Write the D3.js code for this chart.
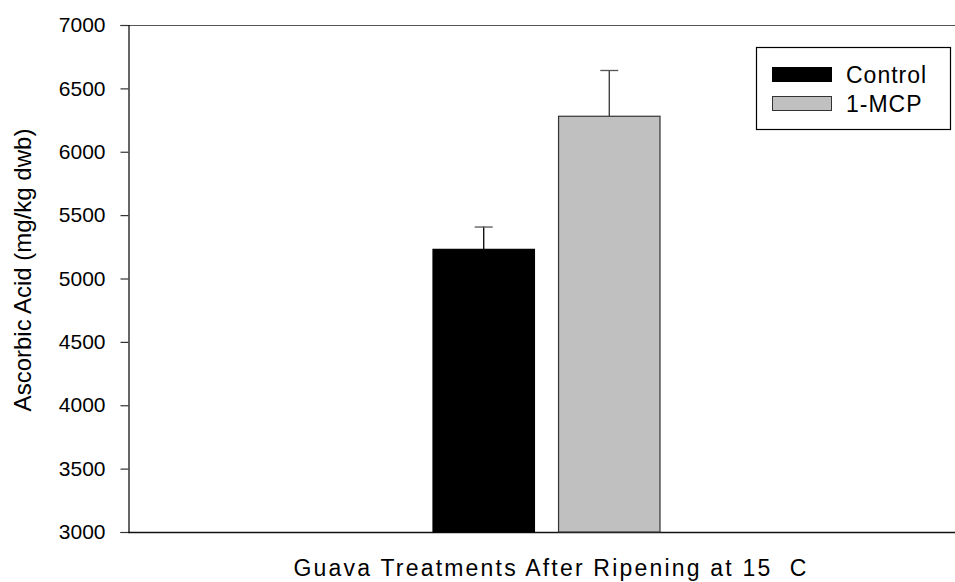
<!DOCTYPE html>
<html>
<head>
<meta charset="utf-8">
<script src="https://cdn.jsdelivr.net/npm/d3@7"></script>
<style>
  html, body { margin: 0; padding: 0; background: #fff; }
  svg { display: block; font-family: "Liberation Sans", Arial, sans-serif; }
</style>
</head>
<body>
<svg id="chart" width="955" height="582"></svg>
<script>
// Ascorbic acid of guava after ripening at 15 C
const treatments = ["Control", "1-MCP"];
const means = [5230, 6280];
const stdErrors = [180, 365];
const barColors = ["#000000", "#c0c0c0"];
const barStrokes = ["#000000", "#333333"];
const yTicks = [3000, 3500, 4000, 4500, 5000, 5500, 6000, 6500, 7000];

const svg = d3.select("#chart");
const plotLeft = 128, plotRight = 955, plotTop = 25, plotBottom = 532;

const y = d3.scaleLinear().domain([3000, 7000]).range([plotBottom, plotTop]);
const x = d3.scaleBand().domain(treatments)
  .range([433, 660]).paddingInner(0.192).paddingOuter(0);

// frame: top border and bottom axis line
svg.append("line").attr("x1", plotLeft).attr("x2", plotRight)
  .attr("y1", plotTop + 0.5).attr("y2", plotTop + 0.5)
  .attr("stroke", "#555").attr("stroke-width", 1.2);
svg.append("line").attr("x1", plotLeft).attr("x2", plotRight)
  .attr("y1", plotBottom + 0.5).attr("y2", plotBottom + 0.5)
  .attr("stroke", "#111").attr("stroke-width", 1.3);

// y axis
const yAxis = d3.axisLeft(y).tickValues(yTicks).tickSize(8).tickPadding(15)
  .tickFormat(d3.format("d"));
const ya = svg.append("g").attr("transform", `translate(${plotLeft + 0.5},0)`).call(yAxis);
ya.select(".domain").attr("stroke", "#000").attr("stroke-width", 1.2);
ya.selectAll(".tick line").attr("stroke", "#333").attr("stroke-width", 1.2);
ya.selectAll(".tick text").attr("font-size", 21).attr("fill", "#000")
  .attr("font-family", "Liberation Sans, Arial, sans-serif");

// error bars (drawn beneath bars so only the upper whisker shows)
const capHalf = 9;
const eb = svg.append("g");
treatments.forEach((t, i) => {
  const cx = x(t) + x.bandwidth() / 2;
  eb.append("line").attr("x1", cx).attr("x2", cx)
    .attr("y1", y(means[i])).attr("y2", y(means[i] + stdErrors[i]))
    .attr("stroke", i === 0 ? "#000" : "#333").attr("stroke-width", 1.3);
  eb.append("line").attr("x1", cx - capHalf).attr("x2", cx + capHalf)
    .attr("y1", y(means[i] + stdErrors[i]) + 0.5).attr("y2", y(means[i] + stdErrors[i]) + 0.5)
    .attr("stroke", "#555").attr("stroke-width", 1.3);
});

// bars
svg.append("g").selectAll("rect").data(treatments).join("rect")
  .attr("x", d => x(d))
  .attr("y", (d, i) => y(means[i]))
  .attr("width", x.bandwidth())
  .attr("height", (d, i) => y(3000) - y(means[i]))
  .attr("fill", (d, i) => barColors[i])
  .attr("stroke", (d, i) => barStrokes[i])
  .attr("stroke-width", 1.2);

// legend
const lg = svg.append("g");
lg.append("rect").attr("x", 756.5).attr("y", 47.5).attr("width", 194).attr("height", 82)
  .attr("fill", "#fff").attr("stroke", "#000").attr("stroke-width", 1.2);
treatments.forEach((t, i) => {
  const yy = 67 + i * 29;
  lg.append("rect").attr("x", 772.5).attr("y", yy + 0.5).attr("width", 59).attr("height", 14)
    .attr("fill", barColors[i]).attr("stroke", barStrokes[i]).attr("stroke-width", 1);
  lg.append("text").attr("x", 846).attr("y", yy + 16)
    .attr("font-size", 23).attr("letter-spacing", 1).attr("fill", "#000").text(t);
});

// axis titles
svg.append("text")
  .attr("transform", `translate(31,270) rotate(-90)`)
  .attr("text-anchor", "middle").attr("font-size", 24)
  .attr("fill", "#000").text("Ascorbic Acid (mg/kg dwb)");
svg.append("text")
  .attr("x", 551).attr("y", 576).attr("text-anchor", "middle")
  .attr("font-size", 23).attr("letter-spacing", 2.2).attr("fill", "#000")
  .style("white-space", "pre")
  .text("Guava Treatments After Ripening at 15  C");
</script>
</body>
</html>
